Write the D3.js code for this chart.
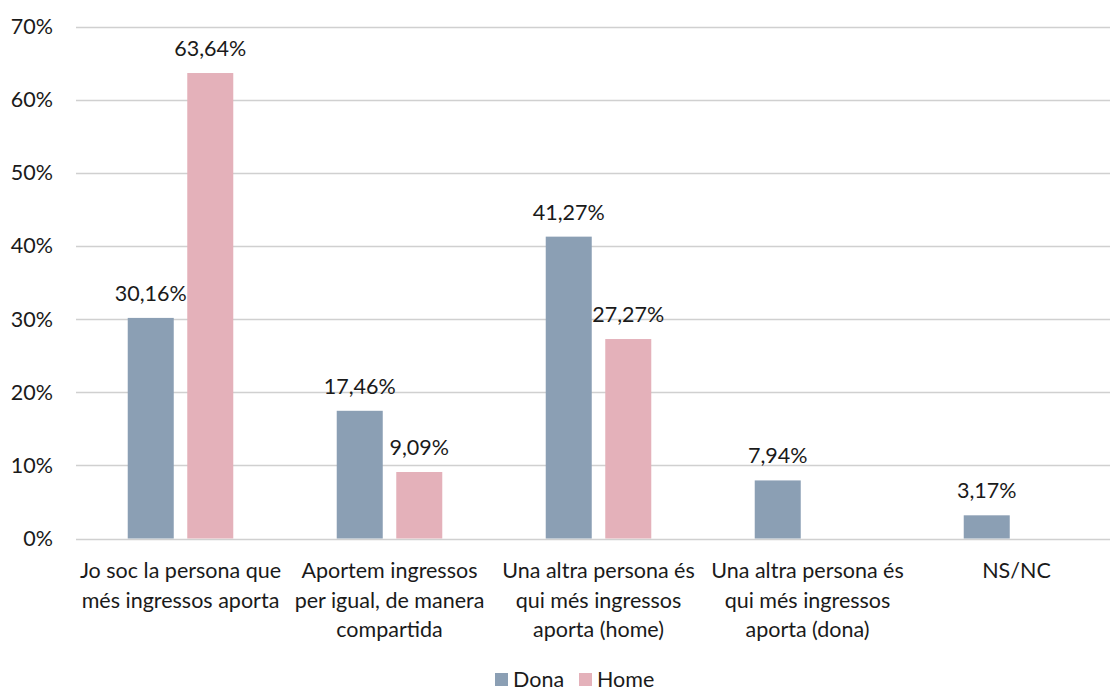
<!DOCTYPE html>
<html>
<head>
<meta charset="utf-8">
<script src="https://cdn.jsdelivr.net/npm/d3@7"></script>
<style>
  body { margin: 0; background: #fff; }
  svg text { font-family: Lato, "Open Sans", sans-serif; fill: #1a1a1a; }
</style>
</head>
<body>
<div id="chart"></div>
<script>
// Data
const categories = [
    ["Jo soc la persona que", "més ingressos aporta"],
    ["Aportem ingressos", "per igual, de manera", "compartida"],
    ["Una altra persona és", "qui més ingressos", "aporta (home)"],
    ["Una altra persona és", "qui més ingressos", "aporta (dona)"],
    ["NS/NC"]
];
const seriesNames = ["Dona", "Home"];
const dona = [30.16, 17.46, 41.27, 7.94, 3.17];
const home = [63.64, 9.09, 27.27, null, null];
const yTicks = [0, 10, 20, 30, 40, 50, 60, 70];

const colors = { Dona: "#8b9fb4", Home: "#e4b1ba" };

const width = 1110, height = 691;
const margin = { left: 76, right: -11, top: 26.5, bottom: 152.5 };
const fontSize = "21.5px";

const svg = d3.select("#chart").append("svg")
    .attr("width", width)
    .attr("height", height);

const x = d3.scaleBand()
    .domain(d3.range(categories.length))
    .range([margin.left, width - margin.right]);

const xInner = d3.scaleBand()
    .domain(seriesNames)
    .range([0, x.bandwidth()])
    .paddingInner(0.227)
    .paddingOuter(0.869);

const y = d3.scaleLinear()
    .domain([0, 70])
    .range([height - margin.bottom, margin.top]);

// gridlines
svg.append("g")
    .selectAll("line")
    .data(yTicks)
    .join("line")
    .attr("x1", margin.left)
    .attr("x2", width)
    .attr("y1", d => Math.round(y(d)) + 0.5)
    .attr("y2", d => Math.round(y(d)) + 0.5)
    .attr("stroke", "#d0d0d0")
    .attr("stroke-width", 1.5);

// y axis labels
svg.append("g")
    .selectAll("text")
    .data(yTicks)
    .join("text")
    .attr("x", 53)
    .attr("y", d => y(d))
    .attr("dy", "0.35em")
    .attr("text-anchor", "end")
    .style("font-size", fontSize)
    .text(d => d + "%");

// bars
const rows = [];
categories.forEach((c, i) => {
    rows.push({ i: i, s: "Dona", v: dona[i] });
    rows.push({ i: i, s: "Home", v: home[i] });
});
const bars = rows.filter(d => d.v != null);

const fmt = v => v.toFixed(2).replace(".", ",") + "%";

svg.append("g")
    .selectAll("rect")
    .data(bars)
    .join("rect")
    .attr("x", d => x(d.i) + xInner(d.s))
    .attr("width", xInner.bandwidth())
    .attr("y", d => y(d.v))
    .attr("height", d => y(0) - y(d.v))
    .attr("fill", d => colors[d.s]);

svg.append("g")
    .selectAll("text")
    .data(bars)
    .join("text")
    .attr("x", d => x(d.i) + xInner(d.s) + xInner.bandwidth() / 2)
    .attr("y", d => y(d.v) - 17)
    .attr("text-anchor", "middle")
    .style("font-size", fontSize)
    .text(d => fmt(d.v));

// category labels
const cat = svg.append("g")
    .selectAll("text")
    .data(categories)
    .join("text")
    .attr("x", (d, i) => x(i) + x.bandwidth() / 2)
    .attr("y", 578)
    .attr("text-anchor", "middle")
    .style("font-size", fontSize);
cat.selectAll("tspan")
    .data(d => d)
    .join("tspan")
    .attr("x", function() { return d3.select(this.parentNode).attr("x"); })
    .attr("dy", (d, j) => j === 0 ? 0 : 29.5)
    .text(d => d);

// legend
const legendX = [495, 579];
const legend = svg.append("g")
    .selectAll("g")
    .data(seriesNames)
    .join("g")
    .attr("transform", (d, i) => "translate(" + legendX[i] + ",673)");
legend.append("rect")
    .attr("width", 13)
    .attr("height", 13)
    .attr("fill", d => colors[d]);
legend.append("text")
    .attr("x", 18)
    .attr("y", 6.5)
    .attr("dy", "0.35em")
    .style("font-size", fontSize)
    .text(d => d);
</script>
</body>
</html>
